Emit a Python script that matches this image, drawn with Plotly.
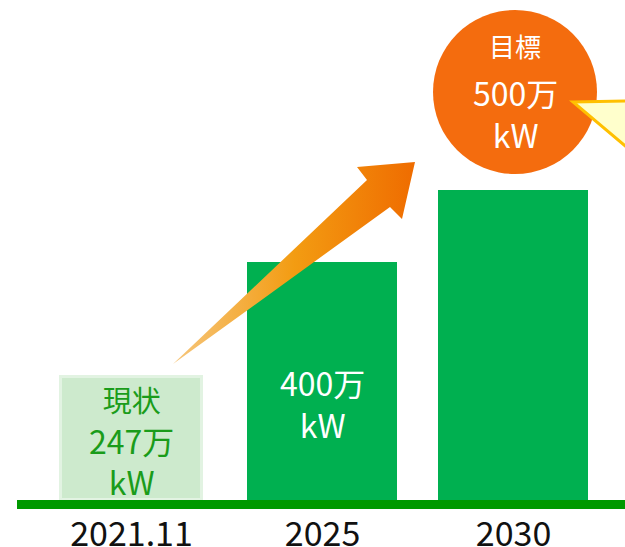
import plotly.graph_objects as go

# ---- data ----
categories = ["2021.11", "2025", "2030"]
capacity_man_kw = [247, 400, 500]          # labelled values (万kW)
bar_heights = [208, 400, 522]              # drawn heights
bar_widths = [0.74, 0.77, 0.77]
bar_colors = ["#cdeacd", "#00b050", "#00b050"]
bar_line_colors = ["#e2f3e2", "#00b050", "#00b050"]

FONT = "Noto Sans CJK JP"
W, H = 625, 547
PLOT_H = 509                       # plot area height in px (bottom margin 38)
PX_PER_UNIT = 0.59                 # px per y unit
BASE_PX = 500                      # pixel row of y = 0


def ydata(p):
    return (BASE_PX - p) / PX_PER_UNIT


fig = go.Figure()

fig.add_trace(go.Bar(
    x=categories, y=bar_heights, width=bar_widths,
    marker=dict(color=bar_colors, line=dict(color=bar_line_colors, width=3)),
    hoverinfo="skip", showlegend=False,
))

# decorative rising arrow (overlay axes in pixel units)
arrow_x = [173, 367, 357, 415, 402, 390, 173]
arrow_y = [364, 180, 167, 162, 219, 207, 364]
fig.add_trace(go.Scatter(
    x=arrow_x, y=arrow_y, xaxis="x2", yaxis="y2", mode="lines",
    line=dict(width=0, color="rgba(0,0,0,0)"), fill="toself",
    fillgradient=dict(type="horizontal",
                      colorscale=[[0, "#f6c67c"], [0.5, "#f39c12"], [1, "#ef6c00"]]),
    hoverinfo="skip", showlegend=False,
))

green_txt = "#1a9c1a"
annotations = [
    dict(x=0, y=ydata(441), xref="x", yref="y",
         text=f"<span style='font-size:29px'>現状</span><br>{capacity_man_kw[0]}万<br>kW",
         font=dict(size=32, color=green_txt, family=FONT)),
    dict(x=1, y=ydata(402.5), xref="x", yref="y",
         text=f"{capacity_man_kw[1]}万<br>kW",
         font=dict(size=32, color="white", family=FONT)),
    dict(x=515, y=45, xref="x2", yref="y2", text="目標",
         font=dict(size=26, color="white", family=FONT)),
    dict(x=515, y=113, xref="x2", yref="y2", text=f"{capacity_man_kw[2]}万<br>kW",
         font=dict(size=32, color="white", family=FONT)),
]
for a in annotations:
    a.update(showarrow=False, xanchor="center", yanchor="middle")

shapes = [
    # baseline
    dict(type="rect", xref="paper", yref="y", x0=17 / W, x1=1, y0=ydata(509), y1=0,
         fillcolor="#009900", line=dict(width=0), layer="above"),
    # target circle
    dict(type="circle", xref="x2", yref="y2", x0=433, x1=597, y0=10, y1=174,
         fillcolor="#f46c0e", line=dict(width=0), layer="above"),
    # speech callout
    dict(type="path", xref="x2", yref="y2", path="M 573 102 L 630 101 L 630 150 Z",
         fillcolor="#ffffcc", line=dict(color="#ffc000", width=3), layer="above"),
]

fig.update_layout(
    width=W, height=H,
    margin=dict(l=0, r=0, t=0, b=H - PLOT_H, pad=0, autoexpand=False),
    paper_bgcolor="white", plot_bgcolor="white",
    font=dict(family=FONT, color="#111111"),
    bargap=0,
    xaxis=dict(type="category", range=[-131.5 / 191, (W - 131.5) / 191], showgrid=False,
               zeroline=False, showline=False, ticks="", automargin=False,
               ticklabelstandoff=2,
               tickfont=dict(size=34, color="#111111", family=FONT)),
    yaxis=dict(range=[ydata(PLOT_H), ydata(0)], visible=False, showgrid=False,
               zeroline=False, automargin=False),
    xaxis2=dict(range=[0, W], overlaying="x", visible=False),
    yaxis2=dict(range=[PLOT_H, 0], overlaying="y", visible=False),
    shapes=shapes,
    annotations=annotations,
    showlegend=False,
)

fig.write_html("out.html", config={"displayModeBar": False},
               post_script="document.body.style.margin='0';")
